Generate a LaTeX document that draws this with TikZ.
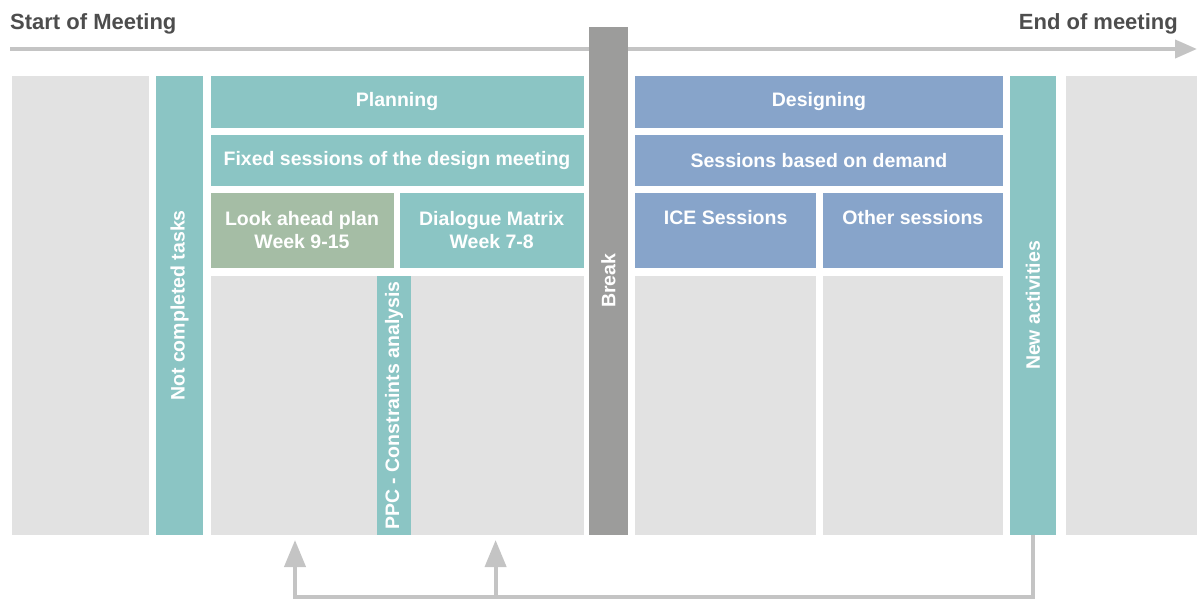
\documentclass[tikz,border=0pt]{standalone}
\usepackage{fontspec}
\setmainfont{Liberation Sans}
\usetikzlibrary{arrows.meta}
\definecolor{cTeal}{HTML}{8BC5C4}
\definecolor{cSage}{HTML}{A5BDA5}
\definecolor{cBlue}{HTML}{87A4CA}
\definecolor{cGrey}{HTML}{E2E2E2}
\definecolor{cBreak}{HTML}{9C9C9B}
\definecolor{cArrow}{HTML}{C4C4C4}
\definecolor{cTitle}{HTML}{4D4D4D}
\begin{document}
\begin{tikzpicture}[x=1pt,y=-1pt,
  blk/.style={draw=none,inner sep=0pt,outer sep=0pt,anchor=north west,text=white,
    font=\fontsize{19.5}{23}\selectfont\bfseries,align=center},
  vlab/.style={rotate=90,inner sep=0pt,text=white,font=\fontsize{19.5}{23}\selectfont\bfseries},
  ttl/.style={text=cTitle,inner sep=0pt,font=\fontsize{22}{25}\selectfont\bfseries},
  flow/.style={draw=cArrow,line width=4pt},
]
\useasboundingbox (0,0) rectangle (1197,600);
% titles
\node[ttl,anchor=west] (start) at (10,24) {Start of Meeting};
\node[ttl,anchor=east] (end) at (1178,24) {End of meeting};
% timeline
\coordinate (ts) at (10,49);
\coordinate (te) at (1197,49);
\draw[flow,-{Triangle[length=22pt,width=18pt]}] (ts) -- (te);
% left and right margins
\node[blk,fill=cGrey,minimum width=137.5pt,minimum height=459pt] (lg) at (11.5,76) {};
\node[blk,fill=cGrey,minimum width=131pt,minimum height=459pt] (rg) at (1066,76) {};
% not completed tasks
\node[blk,fill=cTeal,minimum width=47pt,minimum height=459pt,
  label={[vlab]center:Not completed tasks}] (nct) at (156,76) {};
% planning block
\node[blk,fill=cTeal,minimum width=373pt,minimum height=51.7pt] (plan) at (210.5,76) {Planning};
\node[blk,fill=cTeal,minimum width=373pt,minimum height=50.7pt] (fixed) at (210.5,135) {Fixed sessions of the design meeting};
\node[blk,fill=cSage,minimum width=183pt,minimum height=75pt] (look) at (210.5,193) {Look ahead plan\\Week 9-15};
\node[blk,fill=cTeal,minimum width=183.5pt,minimum height=75pt] (dial) at (400,193) {Dialogue Matrix\\Week 7-8};
\node[blk,fill=cGrey,minimum width=166.5pt,minimum height=259pt] (g1) at (210.5,276) {};
\node[blk,fill=cTeal,minimum width=34.4pt,minimum height=259pt,
  label={[vlab]center:PPC - Constraints analysis}] (ppc) at (377,276) {};
\node[blk,fill=cGrey,minimum width=172.1pt,minimum height=259pt] (g2) at (411.4,276) {};
% break
\node[blk,fill=cBreak,minimum width=38.2pt,minimum height=508.3pt,
  label={[vlab]center:Break}] (brk) at (589.4,26.7) {};
% designing block
\node[blk,fill=cBlue,minimum width=367.4pt,minimum height=51.7pt] (des) at (635.3,76) {Designing};
\node[blk,fill=cBlue,minimum width=367.4pt,minimum height=50.7pt] (dem) at (635.3,135) {Sessions based on demand};
\node[blk,fill=cBlue,minimum width=180.7pt,minimum height=75pt] (ice) at (635.3,193) {ICE Sessions\\\phantom{Wg}};
\node[blk,fill=cBlue,minimum width=179.7pt,minimum height=75pt] (oth) at (823,193) {Other sessions\\\phantom{Wg}};
\node[blk,fill=cGrey,minimum width=180.7pt,minimum height=259pt] (g3) at (635.3,276) {};
\node[blk,fill=cGrey,minimum width=179.7pt,minimum height=259pt] (g4) at (823,276) {};
% new activities
\node[blk,fill=cTeal,minimum width=46pt,minimum height=459pt,
  label={[vlab]center:New activities}] (new) at (1010,76) {};
% feedback arrows
\coordinate (a1) at (295,540);
\coordinate (a2) at (495.6,540);
\coordinate (b) at (0,597);
\draw[flow,-{Triangle[length=27pt,width=21pt]}] (new.south) |- (a1|-b) -- (a1);
\draw[flow,-{Triangle[length=27pt,width=21pt]}] (a2|-b) -- (a2);
\end{tikzpicture}
\end{document}
